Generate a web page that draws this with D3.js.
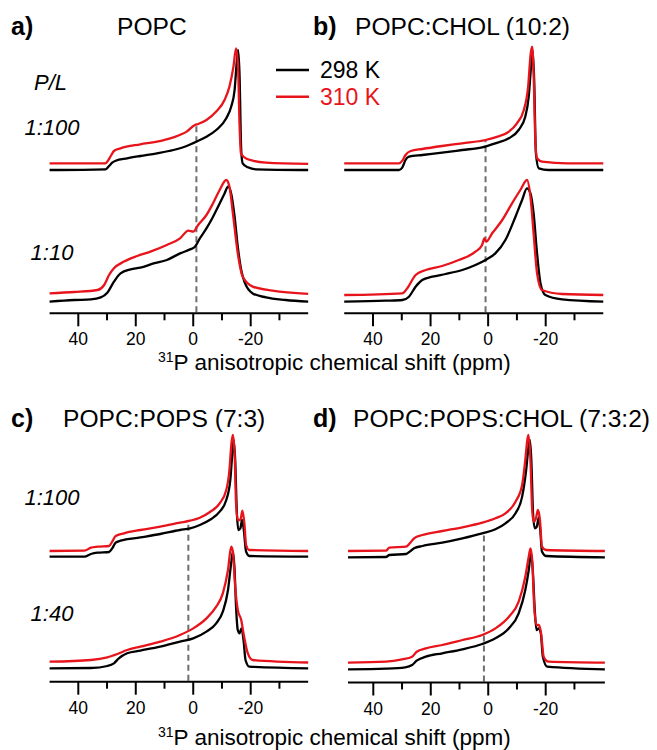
<!DOCTYPE html>
<html>
<head>
<meta charset="utf-8">
<script src="https://cdn.jsdelivr.net/npm/d3@7"></script>
<style>
  html, body { margin: 0; background: #fff; }
  svg { display: block; font-family: "Liberation Sans", Arial, Helvetica, sans-serif; }
</style>
</head>
<body>
<svg id="fig" width="657" height="750"></svg>
<script>
// 31P static NMR line shapes: [chemical shift (ppm), intensity (a.u.)]
// naming: <lipid mix>_<P/L ratio>_<temperature>

// a) POPC
const popc_100_298 = [[50,0],[30.5,0.7],[29.3,4],[28.2,7.3],[27,9.3],[23,11.7],[18.4,14],[12.6,16.7],[6.9,20],[2.3,24],[-1.1,28.3],[-4.6,33.3],[-8,40],[-11.5,51.7],[-13.2,63.3],[-14.4,80],[-15.2,110],[-15.6,120],[-16.1,96.7],[-16.7,20],[-17.2,6.7],[-19,2.7],[-21.8,0.7],[-40,0]];
const popc_100_310 = [[50,0],[30.5,0],[29.9,1.7],[28.7,7.3],[27.6,12.3],[25.3,15],[18.4,19],[12.6,21.7],[6.9,26],[2.3,31.7],[-0.6,38.3],[-1.7,39.3],[-4.6,43.3],[-8,51.7],[-10.9,63.3],[-12.6,76.7],[-14,96.7],[-14.9,115],[-15.6,96.7],[-16.1,40],[-16.6,10],[-17.8,6],[-20.7,2.7],[-25.3,0.7],[-40,-0.5]];
const popc_10_298 = [[50,0],[41.4,1.7],[35.6,2.3],[32.2,4.3],[29.9,9],[27.6,20],[25.3,28.3],[21.8,32.3],[18.4,34],[13.8,38.3],[9.2,41.7],[4.6,48.3],[1.1,52.3],[-0.6,55],[-2.3,63.3],[-4.6,73.3],[-6.9,85],[-9.2,98.3],[-10.9,108.3],[-12.1,115],[-13.2,108.3],[-14.4,85],[-15.5,55],[-16.7,31.7],[-17.8,20],[-20.7,8.3],[-25.3,4.3],[-32.2,1.7],[-40,0]];
const popc_10_310 = [[50,0],[41.4,1.3],[33.3,3.3],[31,8.3],[29.3,18.3],[27.6,25],[24.1,31.7],[19.5,37.3],[14.9,41.7],[9.2,48.3],[4.6,55],[1.7,62.7],[0,61.7],[-1.7,68.3],[-4.6,78.3],[-6.9,90],[-9.2,103.3],[-11.5,113.3],[-12.6,106.7],[-13.8,80],[-15.5,40],[-17.2,16.7],[-20.7,6.7],[-27.6,2.7],[-40,-0.5]];

// b) POPC:CHOL (10:2)
const chol_100_298 = [[50,0],[31,0],[29.8,2.7],[28.7,10],[27.5,13.3],[22.9,15],[16,17.3],[9,20],[2.1,22.7],[-2.5,26.7],[-7.2,31.7],[-10.6,40],[-12.9,53.3],[-14.1,73.3],[-14.9,103.3],[-15.4,120],[-16,90],[-16.6,16.7],[-17.6,1.7],[-21,0],[-40,0]];
const chol_100_310 = [[50,0],[31,0],[29.8,2.7],[28.7,8.3],[26.9,12.3],[22.9,14.3],[16,17.3],[9,20],[0.9,23.3],[-2.5,26],[-7.2,31.7],[-10,40],[-12.4,53.3],[-13.9,76.7],[-14.8,110],[-15.3,116.7],[-15.8,90],[-16.4,23.3],[-17,5],[-18.7,1.7],[-27.7,0],[-40,0]];
const chol_10_298 = [[50,0],[35.6,1],[29.8,1.7],[27.5,5],[25.2,15],[22.9,21.7],[19.4,25],[14.8,27.7],[9,31.7],[4.4,36.7],[0.9,41.7],[-2.5,48.3],[-6,61.7],[-9.5,85],[-11.8,101.7],[-13.5,113.3],[-14.7,108.3],[-15.8,88.3],[-17,48.3],[-18.2,18.3],[-19.9,6.7],[-25.7,2.3],[-40,0]];
const chol_10_310 = [[50,0],[29.8,1.7],[28.1,6.7],[25.2,20],[21.7,25],[16,29],[10.2,35],[4.4,43.3],[2.1,50],[1.3,56.7],[0.7,53.3],[-1.4,61.7],[-4.9,75],[-8.3,91.7],[-11.2,105],[-13.5,115],[-14.7,98.3],[-15.8,61.7],[-17,21.7],[-18.7,5],[-25.7,1],[-40,0]];

// c) POPC:POPS (7:3)
const pops_100_298 = [[50,0],[37.9,0],[35.6,2.7],[33.3,4],[29.3,4.7],[28.2,8.3],[27,14],[25.3,16],[18.4,19.3],[11.5,22.7],[4.6,26.7],[1.1,28.3],[-2.3,31.7],[-5.7,36.7],[-9.2,45],[-11.5,56.7],[-12.9,76.7],[-13.6,103.3],[-14,116.7],[-14.6,96.7],[-15.2,43.3],[-15.7,26.7],[-16.4,28.3],[-17,36.7],[-17.6,26.7],[-18.4,5],[-19.5,0.7],[-40,0]];
const pops_100_310 = [[50,0],[37.9,0.3],[35.6,3.3],[33.3,4.3],[29.3,5],[28.2,9.3],[27,15],[24.1,17.7],[18.4,21],[11.5,24.3],[4.6,28.3],[1.1,30.3],[-2.3,33.3],[-5.7,38.7],[-9.2,47.7],[-11.5,61],[-12.6,81],[-13.3,107.7],[-13.8,116],[-14.4,97.7],[-14.9,47.7],[-15.5,31],[-16.4,31],[-17.1,40.3],[-17.8,27.7],[-18.4,6],[-19.5,1],[-40,0]];
const pops_40_298 = [[50,0],[35.6,0.3],[29.9,2.3],[27.6,5],[25.9,10],[23,15],[18.4,17.7],[11.5,21.7],[4.6,26.7],[0,30],[-4.6,36.7],[-8,45],[-10.3,56.7],[-12.1,78.3],[-13.2,105],[-13.8,116.7],[-14.4,98.3],[-14.9,61.7],[-15.5,38.3],[-16.1,35],[-16.8,40],[-17.5,28.3],[-18.2,8.3],[-19.5,1.7],[-40,0]];
const pops_40_310 = [[50,0],[35.6,1.7],[29.9,4.3],[26.4,7.7],[23,11.7],[18.4,15],[11.5,20],[4.6,26.7],[0,33.3],[-4.6,43.3],[-8,55],[-10.3,68.3],[-12.1,91.7],[-13.2,115],[-13.8,110],[-14.6,75],[-15.5,51.7],[-16.7,41.7],[-17.5,28.3],[-19,8.3],[-20.7,1.7],[-40,-0.8]];

// d) POPC:POPS:CHOL (7:3:2)
const popschol_100_298 = [[48.8,0],[35.6,0.3],[34.4,2.3],[28.6,3.3],[27.3,5.7],[25.8,9],[22.9,11.3],[16,14.7],[9,19],[2.1,24],[-2.5,28],[-6,34],[-9.5,44],[-11.8,60.7],[-13.2,87.3],[-14.1,112.3],[-14.5,117.3],[-15,97.3],[-15.6,44],[-16.2,29],[-16.9,30.7],[-17.6,40],[-18.1,27.3],[-18.7,5.7],[-20.1,1.3],[-40.6,0]];
const popschol_100_310 = [[48.8,0],[35.6,0.3],[34.4,3.3],[28.6,4.3],[27.3,7.7],[25.8,12.7],[22.9,16],[16,20],[9,23.7],[2.1,28.3],[-2.5,32.7],[-6,37.7],[-9.5,49.3],[-11.8,66],[-12.9,91],[-13.6,111],[-14,116],[-14.7,91],[-15.3,41],[-15.8,29.3],[-16.6,32.7],[-17.3,41],[-18,31],[-18.7,4.3],[-20.1,1],[-40.6,0]];
const popschol_40_298 = [[48.8,0],[35.6,0.7],[28.9,2],[26.5,4.3],[24.9,8.7],[21.7,12.7],[16,16],[9,20],[2.1,25.3],[-2.5,31],[-7.2,41],[-10.6,56],[-12.9,79.3],[-14.1,99.3],[-14.9,116],[-15.5,99.3],[-16.2,59.3],[-16.8,39.3],[-17.6,41],[-18.3,36],[-19,12.7],[-20.5,2.7],[-40.6,0]];
const popschol_40_310 = [[48.8,0],[35.6,1],[30,3.3],[26.5,6],[24.9,11],[21.7,14.3],[16,17.7],[9,22.7],[2.1,27.7],[-2.5,34.3],[-7.2,46],[-10.6,61],[-12.9,86],[-14.1,106],[-14.7,114.3],[-15.3,102.7],[-16,56],[-16.8,37.7],[-17.6,37.7],[-18.4,29.3],[-19.3,6],[-21,1],[-40.6,0]];

// labels
const panelLetters = ["a)", "b)", "c)", "d)"];
const panelTitles = ["POPC", "POPC:CHOL (10:2)", "POPC:POPS (7:3)", "POPC:POPS:CHOL (7:3:2)"];
const ratioLabels = [["1:100", "1:10"], null, ["1:100", "1:40"], null];
const temperatures = ["298 K", "310 K"];
const majorTicks = [40, 20, 0, -20];
const minorTicks = [30, 10, -10, -30];
const tickLabels = ["40", "20", "0", "-20"];
// isotropic reference position (ppm) marked by the dashed line in each panel
const refShift = [-1.1, 0.9, 1.7, 1.5];
// which 1:100 trace the dashed marker rises to (0 = 298 K, 1 = 310 K)
const refTrace = [1, 1, 1, 0];

const spectra = [
  [[popc_100_298, popc_100_310], [popc_10_298, popc_10_310]],
  [[chol_100_298, chol_100_310], [chol_10_298, chol_10_310]],
  [[pops_100_298, pops_100_310], [pops_40_298, pops_40_310]],
  [[popschol_100_298, popschol_100_310], [popschol_40_298, popschol_40_310]]
];

// ---- layout ----
const colors = ["#000000", "#e8141c"];
const layout = [
  { t40: 78.3,  tm20: 250.7, ext: [50, -40],     axisY: 313.3, off: [[143.3, 150], [11.6, 20]],   letterX: 11, titleX: 117, titleY: 35 },
  { t40: 373.0, tm20: 545.7, ext: [50, -40],     axisY: 313.3, off: [[143.3, 150], [11.6, 18.3]], letterX: 313, titleX: 355, titleY: 35 },
  { t40: 78.3,  tm20: 250.7, ext: [50, -40],     axisY: 681.7, off: [[125, 130.7], [13.4, 20]],   letterX: 11, titleX: 63, titleY: 427 },
  { t40: 373.3, tm20: 545.7, ext: [48.8, -40.6], axisY: 682.5, off: [[125.2, 131.5], [13.2, 19.8]], letterX: 313, titleX: 353, titleY: 427 }
];
const ratioY = [[135, 260], null, [505, 621], null];

const svg = d3.select("#fig");

function valueAt(series, ppm) {
  for (let i = 0; i < series.length - 1; i++) {
    const [x0, y0] = series[i], [x1, y1] = series[i + 1];
    if (ppm <= x0 && ppm >= x1) return y0 + (y1 - y0) * (ppm - x0) / (x1 - x0);
  }
  return 0;
}

layout.forEach((L, p) => {
  const x = d3.scaleLinear().domain([40, -20]).range([L.t40, L.tm20]);
  const y = d3.scaleLinear().domain([0, 270]).range([L.axisY, L.axisY - 270]);
  const g = svg.append("g");

  // panel letter + title
  g.append("text").attr("x", L.letterX).attr("y", L.titleY)
    .attr("font-size", 25).attr("font-weight", "bold").text(panelLetters[p]);
  g.append("text").attr("x", L.titleX).attr("y", L.titleY)
    .attr("font-size", 24.6).text(panelTitles[p]);

  // dashed reference marker
  const topSeries = spectra[p][0][refTrace[p]];
  const topVal = valueAt(topSeries, refShift[p]) + L.off[0][refTrace[p]];
  g.append("line")
    .attr("x1", x(refShift[p])).attr("x2", x(refShift[p]))
    .attr("y1", y(0) - 1).attr("y2", y(topVal))
    .attr("stroke", "#6e6e6e").attr("stroke-width", 2).attr("stroke-dasharray", "6,4");

  // traces: each ratio row, 298 K drawn first, then 310 K
  spectra[p].forEach((row, r) => {
    row.forEach((series, t) => {
      const line = d3.line()
        .x(d => x(d[0]))
        .y(d => y(d[1] + L.off[r][t]))
        .curve(d3.curveMonotoneX);
      g.append("path").datum(series)
        .attr("d", line)
        .attr("fill", "none")
        .attr("stroke", colors[t])
        .attr("stroke-width", 2.3)
        .attr("stroke-linejoin", "round");
    });
  });

  // x axis
  const ax = g.append("g");
  ax.append("line")
    .attr("x1", x(L.ext[0])).attr("x2", x(L.ext[1]))
    .attr("y1", L.axisY).attr("y2", L.axisY)
    .attr("stroke", "#000").attr("stroke-width", 2);
  ax.selectAll("line.major").data(majorTicks).join("line").attr("class", "major")
    .attr("x1", d => x(d)).attr("x2", d => x(d))
    .attr("y1", L.axisY).attr("y2", L.axisY + 13)
    .attr("stroke", "#000").attr("stroke-width", 2);
  ax.selectAll("line.minor").data(minorTicks).join("line").attr("class", "minor")
    .attr("x1", d => x(d)).attr("x2", d => x(d))
    .attr("y1", L.axisY).attr("y2", L.axisY + 7)
    .attr("stroke", "#000").attr("stroke-width", 2);
  ax.selectAll("text").data(majorTicks).join("text")
    .attr("x", d => x(d)).attr("y", L.axisY + 32)
    .attr("text-anchor", "middle").attr("font-size", 17.5)
    .text((d, i) => tickLabels[i]);

  // P/L ratio labels
  if (ratioLabels[p]) {
    ratioLabels[p].forEach((lab, r) => {
      g.append("text").attr("x", 52).attr("y", ratioY[p][r])
        .attr("text-anchor", "middle").attr("font-size", 22)
        .attr("font-style", "italic").text(lab);
    });
  }
});

// P/L header
svg.append("text").attr("x", 50.5).attr("y", 90).attr("text-anchor", "middle")
  .attr("font-size", 22).attr("font-style", "italic").text("P/L");

// temperature legend
temperatures.forEach((t, i) => {
  const ly = 70 + i * 26.7;
  svg.append("line").attr("x1", 276).attr("x2", 309).attr("y1", ly).attr("y2", ly)
    .attr("stroke", colors[i]).attr("stroke-width", 2.5);
  svg.append("text").attr("x", 320).attr("y", ly + 8).attr("font-size", 23)
    .attr("fill", colors[i]).text(t);
});

// shared axis titles
[370, 745].forEach(by => {
  const t = svg.append("text").attr("x", 158).attr("y", by).attr("font-size", 22.5);
  t.append("tspan").attr("font-size", 14).attr("dy", -8).text("31");
  t.append("tspan").attr("dy", 8).text("P anisotropic chemical shift (ppm)");
});
</script>
</body>
</html>
